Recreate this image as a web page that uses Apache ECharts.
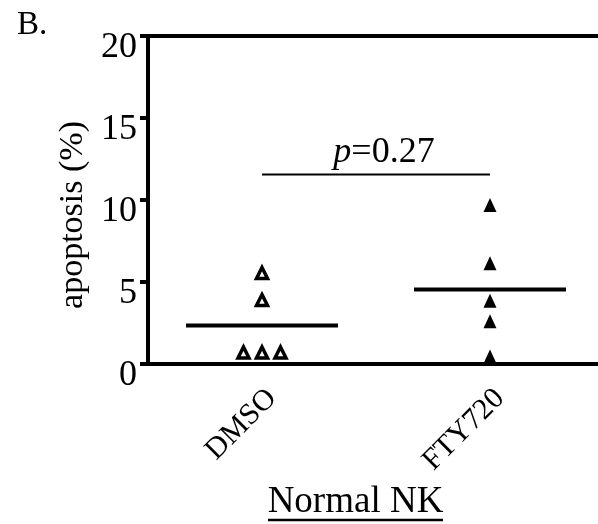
<!DOCTYPE html>
<html>
<head>
<meta charset="utf-8">
<script src="https://cdn.jsdelivr.net/npm/echarts@6/dist/echarts.min.js"></script>
<style>
  html, body { margin: 0; padding: 0; background: #fff; }
  #chart { width: 598px; height: 524px; }
</style>
</head>
<body>
<div id="chart"></div>
<script>
// data
const categories = ['DMSO', 'FTY720'];
const dmsoValues = [5.55, 3.9, 0.7, 0.7, 0.7];
const ftyValues = [9.7, 6.15, 3.85, 2.6, 0.45];
const meanValues = [2.34, 4.55];
const pBarY = 11.55;
const pValue = '0.27';

const FONT = '"Liberation Serif", "Times New Roman", serif';
const DOT_SPACING = 18.5;

// points that share a value are laid side by side, like the dot plot does
function spread(values, catIndex) {
    const counts = {};
    const seen = {};
    values.forEach(v => { counts[v] = (counts[v] || 0) + 1; });
    return values.map(v => {
        seen[v] = seen[v] === undefined ? 0 : seen[v] + 1;
        const off = (seen[v] - (counts[v] - 1) / 2) * DOT_SPACING;
        return { value: [catIndex, v], symbolOffset: [off, 0] };
    });
}

const chart = echarts.init(document.getElementById('chart'));

const option = {
    animation: false,
    backgroundColor: '#fff',
    title: {
        text: 'B.',
        left: 17,
        top: 9,
        padding: 0,
        textStyle: { fontFamily: FONT, fontSize: 33, fontWeight: 'normal', color: '#000' }
    },
    grid: { left: 148, top: 36, width: 456, height: 328, outerBoundsMode: 'none', containLabel: false },
    xAxis: [
        {
            type: 'category',
            data: categories,
            boundaryGap: true,
            axisLine: { lineStyle: { color: '#000', width: 4 } },
            axisTick: { alignWithLabel: true, length: 9, lineStyle: { color: '#000', width: 4 } },
            axisLabel: {
                rotate: 45,
                margin: 20,
                verticalAlign: 'top',
                lineHeight: 28,
                fontFamily: FONT,
                fontSize: 30,
                color: '#000'
            },
            name: 'Normal NK',
            nameLocation: 'middle',
            nameGap: 118,
            nameTextStyle: { fontFamily: FONT, fontSize: 37, color: '#000', padding: [0, 41, 0, 0] }
        },
        {
            type: 'category',
            data: categories,
            position: 'top',
            axisLine: { lineStyle: { color: '#000', width: 4 } },
            axisTick: { show: false },
            axisLabel: { show: false }
        }
    ],
    yAxis: {
        type: 'value',
        min: 0,
        max: 20,
        interval: 5,
        splitLine: { show: false },
        axisLine: { show: true, lineStyle: { color: '#000', width: 4 } },
        axisTick: { show: true, length: 8, lineStyle: { color: '#000', width: 4 } },
        axisLabel: {
            margin: 11,
            verticalAlign: 'top',
            lineHeight: 24,
            fontFamily: FONT,
            fontSize: 36,
            color: '#000'
        },
        name: 'apoptosis (%)',
        nameLocation: 'middle',
        nameGap: 52,
        nameTextStyle: { fontFamily: FONT, fontSize: 34, color: '#000', padding: [0, 30, 0, 0] }
    },
    graphic: [
        {
            type: 'line',
            shape: { x1: 268, y1: 520, x2: 443, y2: 520 },
            style: { stroke: '#000', lineWidth: 2.5 }
        }
    ],
    series: [
        {
            name: 'Mean',
            type: 'custom',
            renderItem: (params, api) => {
                const c = api.coord([api.value(0), api.value(1)]);
                const half = api.size([1, 0])[0] / 3;
                return {
                    type: 'line',
                    shape: { x1: c[0] - half, y1: c[1], x2: c[0] + half, y2: c[1] },
                    style: { stroke: '#000', lineWidth: 4 }
                };
            },
            data: meanValues.map((m, i) => [i, m]),
            z: 1
        },
        {
            name: 'p',
            type: 'custom',
            renderItem: (params, api) => {
                const a = api.coord([api.value(0), api.value(2)]);
                const b = api.coord([api.value(1), api.value(2)]);
                return {
                    type: 'group',
                    children: [
                        {
                            type: 'line',
                            shape: { x1: a[0], y1: a[1], x2: b[0], y2: b[1] },
                            style: { stroke: '#000', lineWidth: 2 }
                        },
                        {
                            type: 'text',
                            style: {
                                x: (a[0] + b[0]) / 2 + 8,
                                y: a[1] - 22,
                                text: '{i|p}=' + pValue,
                                rich: { i: { fontStyle: 'italic', fontFamily: FONT, fontSize: 36 } },
                                fontFamily: FONT,
                                fontSize: 36,
                                fill: '#000',
                                align: 'center',
                                verticalAlign: 'middle'
                            }
                        }
                    ]
                };
            },
            data: [[0, 1, pBarY]]
        },
        {
            name: 'DMSO',
            type: 'scatter',
            symbol: 'triangle',
            symbolSize: 11,
            itemStyle: { color: '#fff', borderColor: '#000', borderWidth: 3.5, opacity: 1 },
            data: spread(dmsoValues, 0),
            z: 3
        },
        {
            name: 'FTY720',
            type: 'scatter',
            symbol: 'triangle',
            symbolSize: [13, 14],
            itemStyle: { color: '#000', opacity: 1 },
            data: spread(ftyValues, 1),
            z: 3
        }
    ]
};

chart.setOption(option);
</script>
</body>
</html>
